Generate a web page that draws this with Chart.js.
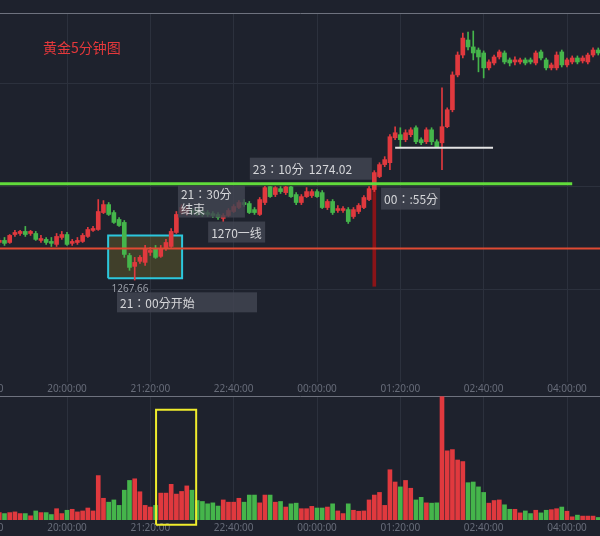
<!DOCTYPE html>
<html>
<head>
<meta charset="utf-8">
<script src="https://cdn.jsdelivr.net/npm/chart.js@4.4.1/dist/chart.umd.min.js"></script>
<style>
  html, body { margin: 0; padding: 0; background: #1e222d; }
  #wrap { position: relative; width: 600px; height: 536px; overflow: hidden; }
  #priceChart { position: absolute; left: 0; top: 0; }
  #volChart { position: absolute; left: 0; top: 395px; }
</style>
</head>
<body>
<div id="wrap">
  <canvas id="priceChart" width="600" height="396"></canvas>
  <canvas id="volChart" width="600" height="141"></canvas>
</div>
<script>
/* ============================================================
   黄金5分钟图 — candles + volume, bar 0 = 20:00
   ============================================================ */

const firstBar = -13;           // first bar is 18:55
const timeTicks = [-16, 0, 16, 32, 48, 64, 80, 96];
const priceGrid = [1267, 1274, 1281];

const opens = [
  1270.21, 1270.35, 1270.21, 1270.75, 1270.82, 1270.96, 1270.82, 1270.82, 1270.35, 1270.42, 1270.28, 1270.08, 1270.55,
  1270.75, 1270.15, 1270.21, 1270.28, 1270.62, 1271.03, 1271.09, 1272.24, 1272.78, 1272.24, 1271.77, 1271.57, 1269.33,
  1268.59, 1268.93, 1268.86, 1269.54, 1269.81, 1269.27, 1269.81, 1269.94, 1270.89, 1272.24, 1272.17, 1272.38, 1272.38,
  1272.31, 1272.24, 1272.17, 1272.11, 1271.84, 1272.04, 1272.31, 1272.58, 1272.92, 1272.85, 1272.44, 1272.11, 1272.92,
  1274.00, 1273.46, 1273.86, 1273.59, 1273.98, 1273.46, 1272.92, 1273.32, 1273.39, 1273.66, 1273.59, 1272.58, 1272.99,
  1272.38, 1272.38, 1272.44, 1271.97, 1272.31, 1272.58, 1273.12, 1273.80, 1274.68, 1275.49, 1275.62, 1277.31, 1277.52,
  1277.18, 1277.52, 1277.99, 1277.18, 1277.04, 1277.85, 1277.04, 1276.97, 1278.06, 1279.21, 1281.57, 1282.92, 1283.94,
  1283.47, 1283.26, 1283.06, 1282.05, 1282.38, 1282.79, 1283.06, 1282.59, 1282.45, 1282.45, 1282.59, 1282.59, 1282.38,
  1283.13, 1282.59, 1282.05, 1282.05, 1283.13, 1282.25, 1282.45, 1282.72, 1282.52, 1282.45, 1282.92, 1283.26
];
const highs = [
  1270.48, 1270.55, 1270.75, 1271.03, 1271.03, 1271.30, 1271.03, 1270.96, 1270.69, 1270.55, 1270.55, 1270.82, 1270.96,
  1270.89, 1270.42, 1270.55, 1270.82, 1271.23, 1271.30, 1273.12, 1273.05, 1272.92, 1272.38, 1271.90, 1271.70, 1269.47,
  1269.20, 1269.33, 1270.01, 1269.88, 1270.01, 1270.01, 1270.42, 1271.16, 1272.31, 1272.78, 1272.65, 1272.51, 1272.51,
  1272.44, 1272.38, 1272.31, 1272.24, 1272.17, 1272.51, 1272.78, 1273.05, 1273.12, 1272.99, 1272.58, 1273.26, 1274.02,
  1274.00, 1274.00, 1274.00, 1274.01, 1274.01, 1273.59, 1273.46, 1273.93, 1273.80, 1273.80, 1273.73, 1273.12, 1273.12,
  1272.72, 1272.65, 1272.58, 1272.58, 1272.85, 1273.39, 1274.00, 1275.08, 1275.62, 1276.03, 1277.52, 1278.06, 1277.99,
  1277.85, 1277.99, 1278.12, 1277.31, 1277.99, 1277.99, 1277.18, 1280.69, 1279.34, 1281.78, 1283.13, 1284.41, 1284.48,
  1284.55, 1283.40, 1283.20, 1282.59, 1282.92, 1283.26, 1283.20, 1282.72, 1282.79, 1282.72, 1282.72, 1282.72, 1283.20,
  1283.26, 1282.72, 1282.38, 1283.13, 1283.26, 1282.72, 1282.86, 1282.86, 1282.86, 1283.06, 1283.40, 1283.40
];
const lows = [
  1270.08, 1270.01, 1270.15, 1270.62, 1270.69, 1270.62, 1270.69, 1270.35, 1270.21, 1270.08, 1269.94, 1269.94, 1270.42,
  1270.01, 1270.01, 1270.08, 1270.21, 1270.55, 1270.96, 1271.03, 1272.17, 1272.04, 1271.50, 1271.30, 1269.20, 1268.32,
  1267.66, 1268.79, 1268.66, 1269.33, 1269.13, 1269.20, 1269.67, 1269.88, 1270.82, 1272.11, 1272.04, 1272.11, 1272.04,
  1271.97, 1271.97, 1271.90, 1271.77, 1271.63, 1271.97, 1272.24, 1272.51, 1272.65, 1272.17, 1272.11, 1272.04, 1272.78,
  1273.26, 1273.32, 1273.53, 1273.46, 1273.26, 1272.78, 1272.78, 1273.26, 1273.26, 1273.26, 1272.51, 1272.44, 1272.11,
  1272.24, 1272.24, 1271.50, 1271.84, 1272.17, 1272.51, 1273.05, 1273.66, 1274.61, 1275.35, 1275.15, 1277.18, 1276.70,
  1277.04, 1277.38, 1276.91, 1276.84, 1276.91, 1276.84, 1276.64, 1275.15, 1277.99, 1279.07, 1281.44, 1282.72, 1283.26,
  1282.59, 1281.78, 1281.37, 1281.91, 1282.25, 1282.65, 1282.32, 1282.18, 1282.25, 1282.32, 1282.25, 1282.32, 1282.25,
  1282.59, 1281.91, 1281.91, 1281.91, 1282.11, 1282.11, 1282.32, 1282.32, 1282.38, 1282.32, 1282.79, 1282.92
];
const closes = [
  1270.35, 1270.15, 1270.69, 1270.89, 1270.96, 1270.75, 1270.96, 1270.42, 1270.48, 1270.21, 1270.15, 1270.62, 1270.75,
  1270.08, 1270.28, 1270.35, 1270.69, 1271.09, 1271.16, 1272.31, 1272.78, 1272.11, 1271.57, 1271.36, 1269.40, 1268.52,
  1268.86, 1269.20, 1269.81, 1269.67, 1269.20, 1269.81, 1270.21, 1270.96, 1272.11, 1272.58, 1272.51, 1272.24, 1272.11,
  1272.11, 1272.11, 1272.04, 1271.90, 1272.04, 1272.38, 1272.65, 1272.92, 1272.78, 1272.24, 1272.24, 1273.12, 1273.93,
  1273.32, 1273.93, 1273.66, 1273.98, 1273.32, 1272.92, 1273.32, 1273.66, 1273.66, 1273.32, 1272.58, 1272.99, 1272.24,
  1272.51, 1272.51, 1271.63, 1272.44, 1272.72, 1273.26, 1273.86, 1274.95, 1275.49, 1275.83, 1277.38, 1277.65, 1277.18,
  1277.65, 1277.85, 1277.04, 1276.97, 1277.85, 1277.04, 1276.70, 1278.06, 1279.21, 1281.57, 1282.92, 1284.07, 1283.47,
  1283.06, 1282.79, 1282.05, 1282.45, 1282.79, 1283.13, 1282.45, 1282.38, 1282.59, 1282.59, 1282.38, 1282.45, 1283.06,
  1282.72, 1282.05, 1282.25, 1282.92, 1282.25, 1282.59, 1282.72, 1282.45, 1282.72, 1282.92, 1283.26, 1283.06
];
const volumes = [
  76, 66, 76, 83, 66, 66, 43, 93, 76, 76, 56, 116, 66,
  100, 110, 83, 93, 123, 93, 456, 223, 183, 206, 150, 306, 406, 423, 290, 150, 133, 150, 276, 276,
  366, 266, 293, 350, 306, 200, 190, 166, 176, 143, 206, 183, 183, 223, 183, 256, 256, 176, 256, 256,
  183, 190, 133, 166, 173, 116, 116, 140, 123, 123, 133, 166, 93, 66, 166, 100, 90, 93, 206, 256,
  283, 150, 516, 390, 340, 406, 326, 206, 233, 176, 173, 176, 1266, 710, 723, 616, 600, 383, 390, 340,
  283, 173, 200, 206, 156, 110, 110, 73, 93, 66, 100, 73, 100, 106, 116, 133, 90, 33, 50, 40, 40, 40, 26
];

// marked levels and boxes (bar index / price)
const greenLevel = { price: 1274.20, from: -13, to: 97 };
const redLevel = { price: 1269.81, from: -13, to: 103 };
const whiteLevel = { price: 1276.64, from: 63, to: 81.8 };
const spike = { bar: 59, low: 1267.24, high: 1273.80 };
const cyanBox = { from: 7.9, to: 22.1, low: 1267.78, high: 1270.69 };
const yellowBox = { from: 17.1, to: 24.8, low: -50, high: 1131 };

const noteTexts = [['21：30分', '结束'], ['1270一线'], ['23：10分  1274.02'], ['00：:55分'], ['21：00分开始']];
const lowLabel = { bar: 13, price: 1267.66, text: '1267.66' };

/* ---------------- helpers ---------------- */
const UP = '#e0393e', DOWN = '#45b54b', GRID = '#2c313d', EDGE = '#6e727e';
const xMin = -12.864, xMax = 102.336;
const bars = opens.map((_, k) => firstBar + k);
const isUp = k => closes[k] >= opens[k];
const candleColor = c => isUp(c.dataIndex) ? UP : DOWN;

function barTime(i) {
  const m = ((20 * 60 + i * 5) % 1440 + 1440) % 1440;
  return String(Math.floor(m / 60)).padStart(2, '0') + ':' + String(m % 60).padStart(2, '0') + ':00';
}
const level = (l) => [{ x: l.from, y: l.price }, { x: l.to, y: l.price }];
const box = (b) => [
  { x: b.from, y: b.low }, { x: b.to, y: b.low }, { x: b.to, y: b.high }, { x: b.from, y: b.high }, { x: b.from, y: b.low }
];

function timeAxis() {
  return {
    type: 'linear', min: xMin, max: xMax, bounds: 'data', offset: false,
    grid: { color: GRID, drawTicks: false, offset: false },
    border: { display: false },
    ticks: { autoSkip: false, maxRotation: 0, padding: 1, color: '#676c79',
      font: { size: 10, family: 'Noto Sans' }, callback: v => barTime(v) },
    afterBuildTicks: s => { s.ticks = timeTicks.map(v => ({ value: v })); },
    afterFit: s => { s.paddingLeft = 0; s.paddingRight = 0; }
  };
}
function topEdge() {
  return {
    type: 'linear', position: 'top', min: xMin, max: xMax, offset: false,
    grid: { display: false, drawTicks: false }, ticks: { display: false },
    border: { display: true, color: EDGE, width: 1 },
    afterFit: s => { s.paddingLeft = 0; s.paddingRight = 0; s.height = 0; }
  };
}

/* ---------------- notes ---------------- */
const notePlacement = [
  { bar: 21.3, price: 1274.07, w: 67, h: 32 },
  { bar: 27.1, price: 1271.63, w: 57, h: 21 },
  { bar: 35.1, price: 1275.96, w: 122, h: 22 },
  { bar: 60.3, price: 1273.93, w: 59, h: 22 },
  { bar: 9.6, price: 1266.83, w: 140, h: 20 }
];

const notesPlugin = {
  id: 'notes',
  afterDatasetsDraw(chart) {
    const { ctx, scales: { x, y } } = chart;
    ctx.save();
    ctx.textBaseline = 'middle';
    ctx.textAlign = 'left';
    ctx.font = '12px "Noto Sans CJK TC"';
    notePlacement.forEach((p, n) => {
      const left = x.getPixelForValue(p.bar), top = y.getPixelForValue(p.price);
      ctx.fillStyle = 'rgba(66,70,82,0.82)';
      ctx.fillRect(left, top, p.w, p.h);
      ctx.fillStyle = '#d6d7da';
      noteTexts[n].forEach((t, k) => ctx.fillText(t, left + 3, top + p.h / (noteTexts[n].length * 2) + k * 15 + 1));
    });

    // low price label
    ctx.font = '10px "Noto Sans"';
    ctx.textAlign = 'center';
    ctx.fillStyle = '#9a9ea8';
    ctx.fillText(lowLabel.text, x.getPixelForValue(lowLabel.bar - 0.9), y.getPixelForValue(lowLabel.price) + 9);

    // title
    ctx.font = '14px "Noto Sans CJK SC"';
    ctx.textAlign = 'left';
    ctx.fillStyle = '#e5383b';
    ctx.fillText('黄金5分钟图', 43, 48);
    ctx.restore();
  }
};

/* ---------------- price chart ---------------- */
new Chart(document.getElementById('priceChart'), {
  type: 'bar',
  data: {
    datasets: [
      { type: 'line', data: level(greenLevel), borderColor: '#61dc3b', borderWidth: 3, pointRadius: 0, order: 0 },
      { type: 'line', data: level(redLevel), borderColor: '#df4a33', borderWidth: 2, pointRadius: 0, order: 0 },
      { type: 'line', data: level(whiteLevel), borderColor: '#e4e4e4', borderWidth: 2, pointRadius: 0, order: 0 },
      { data: bars.map((b, k) => ({ x: b, y: [opens[k], closes[k]] })), backgroundColor: candleColor,
        barThickness: 4, minBarLength: 1, grouped: false, order: 1 },
      { data: bars.map((b, k) => ({ x: b, y: [lows[k], highs[k]] })), backgroundColor: candleColor,
        barThickness: 1, grouped: false, order: 2 },
      { data: [{ x: spike.bar, y: [spike.low, spike.high] }], backgroundColor: '#8a1418',
        barThickness: 3, grouped: false, order: 3 },
      { type: 'line', data: box(cyanBox), borderColor: '#2cc7dd', borderWidth: 2, pointRadius: 0,
        fill: 'shape', backgroundColor: 'rgba(120,110,40,0.38)', order: 4 }
    ]
  },
  options: {
    responsive: false, animation: false,
    layout: { padding: { top: 13, left: 0, right: 0, bottom: 0 } },
    plugins: { legend: { display: false }, tooltip: { enabled: false } },
    scales: {
      x: timeAxis(),
      xTop: topEdge(),
      y: {
        min: 1260.75, max: 1285.77,
        grid: { color: GRID, drawTicks: false }, border: { display: false }, ticks: { display: false },
        afterBuildTicks: s => { s.ticks = priceGrid.map(v => ({ value: v })); },
        afterFit: s => { s.width = 0; }
      }
    }
  },
  plugins: [notesPlugin]
});

/* ---------------- volume chart ---------------- */
const volX = timeAxis();
volX.ticks.padding = 2;
new Chart(document.getElementById('volChart'), {
  type: 'bar',
  data: {
    datasets: [
      { type: 'line', data: box(yellowBox), borderColor: '#f0ec2c', borderWidth: 2, pointRadius: 0,
        fill: false, clip: false, order: 0 },
      { data: bars.map((b, k) => ({ x: b, y: volumes[k] })), backgroundColor: candleColor,
        barThickness: 4, grouped: false, order: 1 }
    ]
  },
  options: {
    responsive: false, animation: false,
    layout: { padding: { top: 1, left: 0, right: 0, bottom: 0 } },
    plugins: { legend: { display: false }, tooltip: { enabled: false } },
    scales: {
      x: volX,
      xTop: topEdge(),
      y: {
        min: 0, max: 1273,
        grid: { display: false, drawTicks: false }, border: { display: false }, ticks: { display: false },
        afterFit: s => { s.width = 0; }
      }
    }
  }
});
</script>
</body>
</html>
